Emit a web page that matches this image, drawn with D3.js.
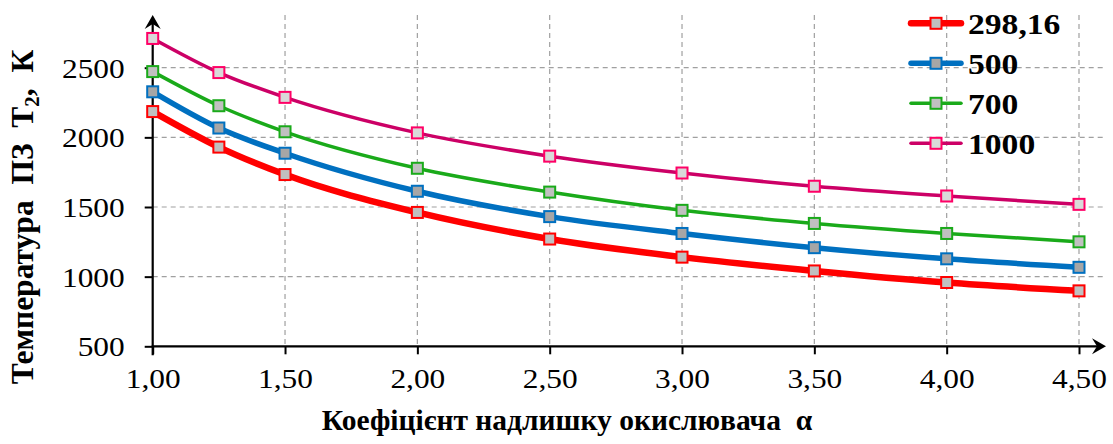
<!DOCTYPE html>
<html><head><meta charset="utf-8">
<script src="https://cdn.jsdelivr.net/npm/d3@7"></script>
<style>
body{margin:0;background:#fff;}
text{font-family:"Liberation Serif","Times New Roman",serif;fill:#000;white-space:pre;}
</style></head>
<body><svg id="c" width="1113" height="444"></svg>
<script>
const alphas = [1.00, 1.25, 1.50, 2.00, 2.50, 3.00, 3.50, 4.00, 4.50];
const xTicks = [1.00, 1.50, 2.00, 2.50, 3.00, 3.50, 4.00, 4.50];
const yTicks = [500, 1000, 1500, 2000, 2500];
const seriesNames = ["298,16", "500", "700", "1000"];
const t298 = [2185, 1930, 1733, 1461, 1270, 1140, 1041, 958, 898];
const t500 = [2327, 2067, 1886, 1613, 1431, 1310, 1208, 1128, 1067];
const t700 = [2472, 2227, 2040, 1778, 1607, 1476, 1382, 1310, 1250];
const t1000 = [2710, 2465, 2287, 2032, 1865, 1744, 1649, 1579, 1519];
const xTitle = "Коефіцієнт надлишку окислювача  α";

const styles = [
  {line:"#FF0000", w:6.5, mStroke:"#FF0000", mFill:"#C0C0C0"},
  {line:"#0070C0", w:5.5, mStroke:"#0070C0", mFill:"#A6A6A6"},
  {line:"#1AAA1A", w:3.5, mStroke:"#1AAA1A", mFill:"#C0C0C0"},
  {line:"#CC0066", w:3.5, mStroke:"#FF0066", mFill:"#D9D9D9"}
];
const allSeries = [t298, t500, t700, t1000];
const SX = 1.12;

const svg = d3.select("#c");
const x = d3.scaleLinear().domain([1, 4.5]).range([152.7, 1079]);
const y = d3.scaleLinear().domain([500, 2500]).range([346.3, 67.7]);
const xEnd = 1106, yTop = 15;

// grid
const grid = svg.append("g").attr("stroke","#A0A0A0").attr("stroke-width",1.2).attr("stroke-dasharray","5,4");
grid.selectAll("line.h").data(yTicks.slice(1)).join("line")
  .attr("x1", x(1)).attr("x2", xEnd).attr("y1", d=>y(d)).attr("y2", d=>y(d));
grid.selectAll("line.v").data(xTicks.slice(1)).join("line")
  .attr("x1", d=>x(d)).attr("x2", d=>x(d)).attr("y1", yTop).attr("y2", y(500));

// axes
const fmt = d => d3.format(".2f")(d).replace(".", ",");
const gx = svg.append("g").attr("transform",`translate(0,${y(500)})`)
  .call(d3.axisBottom(x).tickValues(xTicks).tickFormat(fmt).tickSize(8).tickSizeOuter(0).tickPadding(14));
const gy = svg.append("g").attr("transform",`translate(${x(1)},0)`)
  .call(d3.axisLeft(y).tickValues(yTicks).tickFormat(d3.format("d")).tickSize(8).tickSizeOuter(0).tickPadding(20));
[gx, gy].forEach(g => {
  g.attr("font-family", null);
  g.select(".domain").remove();
  g.selectAll(".tick line").attr("stroke","#000").attr("stroke-width",2);
  g.selectAll(".tick text").attr("font-size",28).attr("fill","#000");
});
gx.selectAll(".tick text").attr("dy","0.71em");
gy.selectAll(".tick text").attr("dy","0.34em");

// axis lines with arrows
svg.append("line").attr("x1", x(1)-1).attr("x2", xEnd-6).attr("y1", y(500)).attr("y2", y(500)).attr("stroke","#000").attr("stroke-width",2.2);
svg.append("line").attr("x1", x(1)).attr("x2", x(1)).attr("y1", y(500)+9).attr("y2", yTop+6).attr("stroke","#000").attr("stroke-width",2.2);
svg.append("path").attr("d",`M${xEnd-14},${y(500)-8} L${xEnd},${y(500)} L${xEnd-14},${y(500)+8} L${xEnd-9},${y(500)} Z`).attr("fill","#000");
svg.append("path").attr("d",`M${x(1)-8},${yTop+14} L${x(1)},${yTop} L${x(1)+8},${yTop+14} L${x(1)},${yTop+9} Z`).attr("fill","#000");

// lines
const line = d3.line().x((d,i)=>x(alphas[i])).y(d=>y(d)).curve(d3.curveMonotoneX);
allSeries.forEach((s, k) => {
  const st = styles[k];
  svg.append("path").datum(s).attr("d", line).attr("fill","none")
    .attr("stroke", st.line).attr("stroke-width", st.w).attr("stroke-linejoin","round").attr("stroke-linecap","round");
});
allSeries.forEach((s, k) => {
  const st = styles[k];
  svg.append("g").selectAll("rect").data(s).join("rect")
    .attr("x",(d,i)=>x(alphas[i])-5.5).attr("y",d=>y(d)-5.5).attr("width",11).attr("height",11)
    .attr("fill", st.mFill).attr("stroke", st.mStroke).attr("stroke-width",2);
});

// legend
const lg = svg.append("g");
seriesNames.forEach((name, k) => {
  const st = styles[k];
  const cy = 23.3 + k*40;
  lg.append("line").attr("x1",911).attr("x2",961).attr("y1",cy).attr("y2",cy)
    .attr("stroke",st.line).attr("stroke-width",st.w).attr("stroke-linecap","round");
  lg.append("rect").attr("x",936-5.5).attr("y",cy-5.5).attr("width",11).attr("height",11)
    .attr("fill",st.mFill).attr("stroke",st.mStroke).attr("stroke-width",2);
  lg.append("text").attr("class","lgt").attr("x",968).attr("y",cy+10.7).attr("font-size",30).attr("font-weight","bold").text(name);
});

// titles
svg.append("text").attr("class","xt").attr("x",567).attr("y",430).attr("text-anchor","middle")
  .attr("font-size",29.5).attr("font-weight","bold").text(xTitle);
const yt = svg.append("text").attr("transform","translate(33,217) rotate(-90)").attr("text-anchor","middle")
  .attr("font-size",31.5).attr("font-weight","bold");
yt.append("tspan").text("Температура  ПЗ  Т");
yt.append("tspan").attr("font-size",21).attr("dy",6).text("2");
yt.append("tspan").attr("dy",-6).text(",  К");

// horizontal stretch of tick and legend text
svg.selectAll(".tick text, .lgt").each(function(){
  const L = this.getComputedTextLength();
  d3.select(this).attr("textLength", L*SX).attr("lengthAdjust","spacingAndGlyphs");
});
</script></body></html>
